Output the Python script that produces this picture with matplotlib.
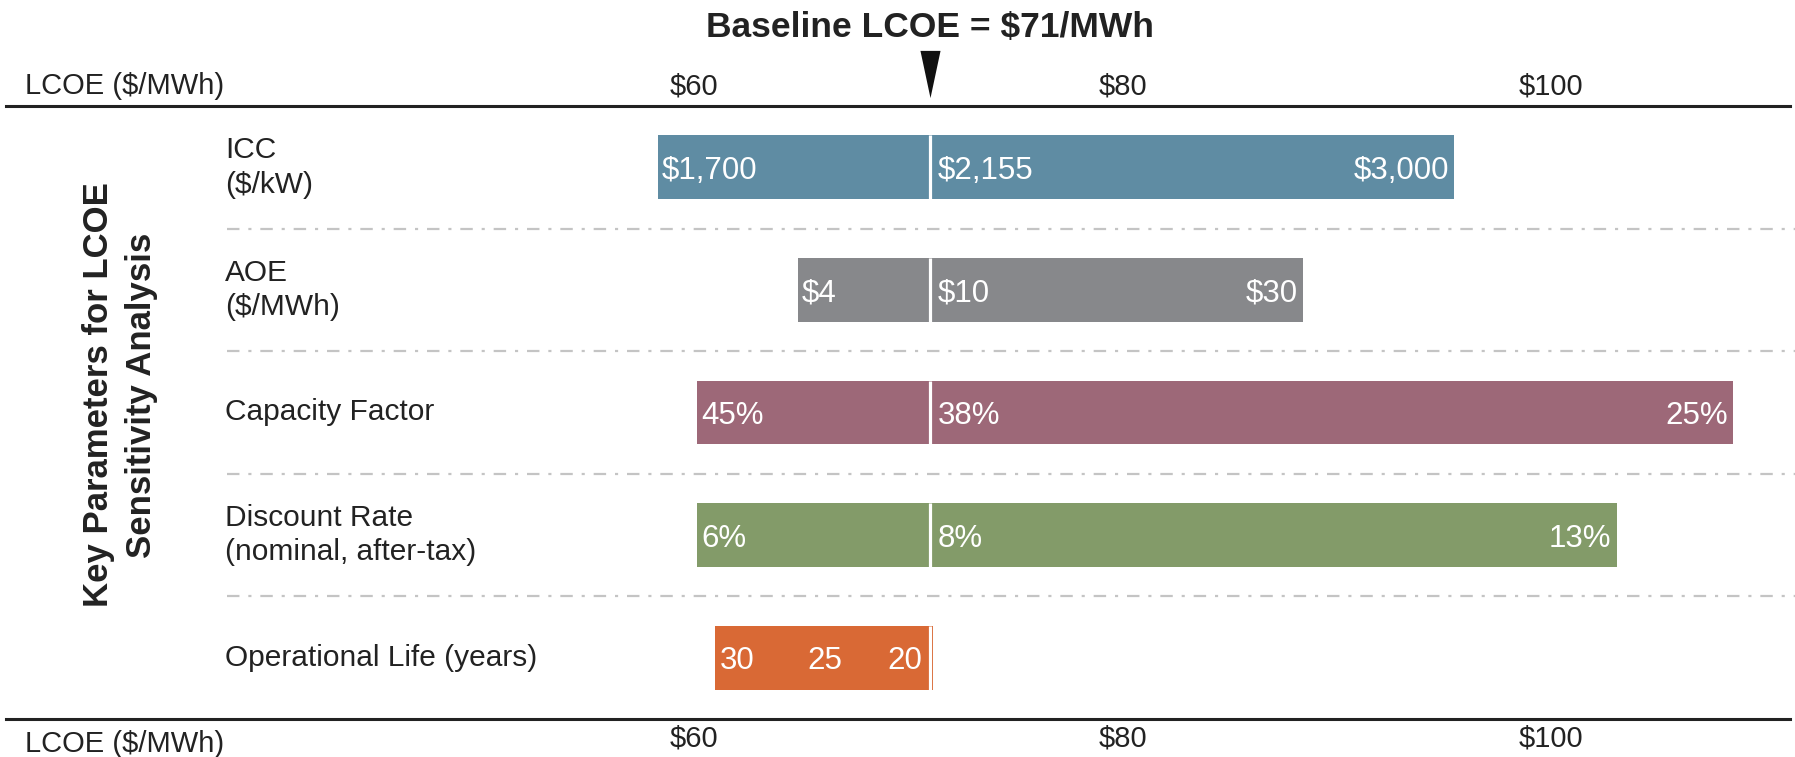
import matplotlib.pyplot as plt
import matplotlib.transforms as mtransforms

plt.rcParams["font.family"] = ["Liberation Sans", "DejaVu Sans"]

# LCOE sensitivity ranges ($/MWh) for each parameter
PARAMS = [
    "ICC\n($/kW)",
    "AOE\n($/MWh)",
    "Capacity Factor",
    "Discount Rate\n(nominal, after-tax)",
    "Operational Life (years)",
]
BASELINE = 71
LOW_LCOE = [58.3, 64.85, 60.15, 60.15, 61.0]
HIGH_LCOE = [95.45, 88.4, 108.5, 103.05, 71.15]
LOW_TEXT = ["$1,700", "$4", "45%", "6%", "30"]
BASE_TEXT = ["$2,155", "$10", "38%", "8%", "20"]
HIGH_TEXT = ["$3,000", "$30", "25%", "13%", ""]
# intermediate value shown inside the operational-life bar
MID_ROW = [4]
MID_LCOE = [66.1]
MID_TEXT = ["25"]
COLORS = ["#5f8ca3", "#87888b", "#9d6878", "#839b69", "#d96935"]
XTICKS = [60, 80, 100]

W, H = 1795, 757
fig = plt.figure(figsize=(W / 100, H / 100), dpi=100)
ax = fig.add_axes([6 / W, 1 - 719 / H, 1784 / W, 613 / H])
ax.set_xlim(27.9, 111.14)
ax.set_ylim(len(PARAMS) - 0.5, -0.5)

bar_h = 0.52
for i in range(len(PARAMS)):
    ax.barh(i, BASELINE - LOW_LCOE[i], left=LOW_LCOE[i], height=bar_h,
            color=COLORS[i], linewidth=0, zorder=2)
    ax.barh(i, HIGH_LCOE[i] - BASELINE, left=BASELINE, height=bar_h,
            color=COLORS[i], linewidth=0, zorder=2)
    ax.vlines(BASELINE, i - bar_h / 2, i + bar_h / 2, color="white",
              linewidth=2.3, zorder=3)

# white value labels inside the bars
lab_kw = dict(color="white", fontsize=22.5, va="center_baseline", zorder=4,
              textcoords="offset pixels")
for i in range(len(PARAMS)):
    ax.annotate(LOW_TEXT[i], (LOW_LCOE[i], i), xytext=(4, 0), ha="left", **lab_kw)
    if HIGH_LCOE[i] - BASELINE > 1:
        ax.annotate(BASE_TEXT[i], (BASELINE, i), xytext=(8, 0), ha="left", **lab_kw)
        ax.annotate(HIGH_TEXT[i], (HIGH_LCOE[i], i), xytext=(-5, 0), ha="right", **lab_kw)
    else:
        ax.annotate(BASE_TEXT[i], (BASELINE, i), xytext=(-7, 0), ha="right", **lab_kw)
for r, v, t in zip(MID_ROW, MID_LCOE, MID_TEXT):
    ax.annotate(t, (v, r), xytext=(0, 0), ha="center", **lab_kw)

# dash-dot separators between rows
for k in range(len(PARAMS) - 1):
    ax.axhline(k + 0.5, xmin=(227 - 6) / 1784, xmax=1.01, color="#c4c4c4",
               linewidth=1.6, linestyle=(0, (5.6, 4.0, 1.4, 4.0)), clip_on=False,
               zorder=1)

# axis frame: heavy rules top and bottom only
for side in ("left", "right"):
    ax.spines[side].set_visible(False)
for side in ("top", "bottom"):
    ax.spines[side].set_linewidth(2.2)
    ax.spines[side].set_color("#222222")
ax.set_yticks([])
ax.set_xticks(XTICKS)
ax.set_xticklabels([f"${v}" for v in XTICKS])
ax.tick_params(axis="x", top=True, labeltop=True, length=0, labelsize=21,
               labelcolor="#222222", pad=4)

fig.text(25 / W, 1 - 86 / H, "LCOE ($/MWh)", fontsize=21, color="#222222",
         ha="left", va="center")
fig.text(25 / W, 1 - 744 / H, "LCOE ($/MWh)", fontsize=21, color="#222222",
         ha="left", va="center")

# parameter names
row_tr = mtransforms.blended_transform_factory(fig.transFigure, ax.transData)
for i, name in enumerate(PARAMS):
    ax.text(225 / W, i, name, transform=row_tr, fontsize=21.5, color="#222222",
            ha="left", va="center", linespacing=1.3)

fig.text(120 / W, 1 - 395 / H, "Key Parameters for LCOE\nSensitivity Analysis",
         rotation=90, fontsize=25, fontweight="bold", color="#222222",
         ha="center", va="center", linespacing=1.35, multialignment="center")

# baseline marker and title
top_tr = mtransforms.blended_transform_factory(ax.transData, fig.transFigure)
ax.plot([BASELINE], [1 - 73.5 / H], transform=top_tr, clip_on=False,
        marker=[(-0.4255, 1), (0.4255, 1), (0, -1)], markersize=34,
        color="#111111", markeredgewidth=0)
ax.text(BASELINE, 1 - 27 / H, f"Baseline LCOE = ${BASELINE}/MWh", transform=top_tr,
        fontsize=25.5, fontweight="bold", color="#222222", ha="center", va="center")

fig.savefig("out.png", dpi=100, facecolor="white")
